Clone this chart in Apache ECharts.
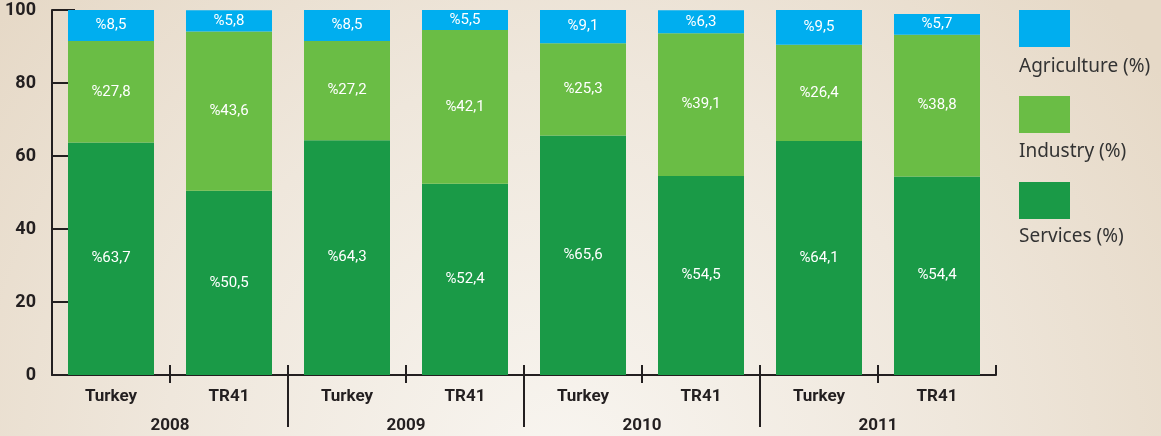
<!DOCTYPE html>
<html>
<head>
<meta charset="utf-8">
<script src="https://cdn.jsdelivr.net/npm/echarts@6/dist/echarts.min.js"></script>
<style>
html,body{margin:0;padding:0;}
#main{width:1161px;height:436px;}
</style>
</head>
<body>
<div id="main"></div>
<script>
// ---- data ----
const years = ['2008', '2009', '2010', '2011'];
const regions = ['Turkey', 'TR41'];
const agriculture = [8.5, 5.8, 8.5, 5.5, 9.1, 6.3, 9.5, 5.7];
const industry    = [27.8, 43.6, 27.2, 42.1, 25.3, 39.1, 26.4, 38.8];
const services    = [63.7, 50.5, 64.3, 52.4, 65.6, 54.5, 64.1, 54.4];
const seriesNames = ['Agriculture (%)', 'Industry (%)', 'Services (%)'];
const yTicks = [0, 20, 40, 60, 80, 100];

// ---- derived ----
const categories = [];
years.forEach(function (y) { regions.forEach(function (r) { categories.push(r); }); });
const boundaries = ['']; // 9 boundary slots: years sit on odd slots
years.forEach(function (y) { boundaries.push(y); boundaries.push(''); });

const ink = '#231f20';
const numFont = 'Roboto, "Liberation Sans", sans-serif';
const fmt = function (p) { return '%' + p.value.toFixed(1).replace('.', ','); };
const gridLeft = 52, gridRight = 165, chartWidth = 1161;
const plotWidth = chartWidth - gridLeft - gridRight;

function bar(name, data, color) {
  return {
    name: name, type: 'bar', stack: 'total', data: data, barWidth: 86, xAxisIndex: 0, yAxisIndex: 0,
    itemStyle: { color: color },
    label: { show: true, position: 'inside', color: '#ffffff', fontFamily: numFont, fontSize: 15, formatter: fmt }
  };
}

const yMin = yTicks[0], yMax = yTicks[yTicks.length - 1], yStep = yTicks[1] - yTicks[0];

const chart = echarts.init(document.getElementById('main'));
chart.setOption({
  animation: false,
  backgroundColor: {
    type: 'radial', x: 560, y: 470, r: 720, global: true,
    colorStops: [{ offset: 0, color: '#f8f5f0' }, { offset: 0.55, color: '#efe7dc' }, { offset: 1, color: '#e6d9c7' }]
  },
  grid: { left: gridLeft, right: gridRight, top: 10, bottom: 61, outerBoundsMode: 'none', containLabel: false },
  legend: [
    {
      data: seriesNames, orient: 'vertical', left: 1019, top: 10, padding: 0,
      itemWidth: 51, itemHeight: 37, itemGap: 49, icon: 'rect',
      formatter: function () { return ''; }, selectedMode: false
    },
    {
      data: seriesNames, orient: 'vertical', left: 1014, top: 56, padding: 0,
      itemWidth: 0, itemHeight: 22, itemGap: 63, icon: 'rect',
      itemStyle: { opacity: 0 },
      textStyle: { fontFamily: '"Noto Sans", sans-serif', fontSize: 19, color: '#333333' },
      selectedMode: false
    }
  ],
  xAxis: [
    {
      type: 'category', data: categories, position: 'bottom',
      axisLine: { show: true, lineStyle: { color: ink, width: 2 } },
      axisTick: { show: true, inside: true, length: 10, lineStyle: { color: ink, width: 2 } },
      axisLabel: { margin: 13, color: ink, fontFamily: numFont, fontWeight: 'bold', fontSize: 17 }
    },
    {
      type: 'category', data: boundaries, boundaryGap: false, position: 'bottom',
      axisLine: { show: false },
      axisTick: { show: true, length: 8, interval: function (i) { return i % 2 === 1; }, lineStyle: { color: ink, width: 2 } },
      axisLabel: { show: false }
    },
    {
      type: 'category', data: boundaries, boundaryGap: false, position: 'bottom',
      axisLine: { show: false },
      axisTick: { show: true, length: 52, interval: function (i) { return i > 0 && i < boundaries.length - 1 && i % 2 === 0; }, lineStyle: { color: ink, width: 2 } },
      axisLabel: { margin: 42, interval: function (i) { return i % 2 === 1; }, color: ink, fontFamily: numFont, fontWeight: 'bold', fontSize: 17 }
    }
  ],
  yAxis: [
    {
      type: 'value', position: 'left', min: yMin, max: yMax, interval: yStep,
      axisLine: { show: true, lineStyle: { color: ink, width: 2 } },
      axisTick: { show: false },
      splitLine: { show: false },
      axisLabel: { margin: 16, color: ink, fontFamily: numFont, fontWeight: 'bold', fontSize: 18 }
    },
    {
      // mirrored axis placed on the left edge so its ticks point into the plot
      type: 'value', position: 'right', offset: -plotWidth, min: yMin, max: yMax, interval: yStep,
      axisLine: { show: false },
      axisTick: { show: true, length: 23, lineStyle: { color: ink, width: 2 } },
      splitLine: { show: false },
      axisLabel: { show: false }
    }
  ],
  series: [
    bar(seriesNames[2], services, '#1a9a47'),
    bar(seriesNames[1], industry, '#6abd45'),
    bar(seriesNames[0], agriculture, '#00aeef')
  ]
});
</script>
</body>
</html>
